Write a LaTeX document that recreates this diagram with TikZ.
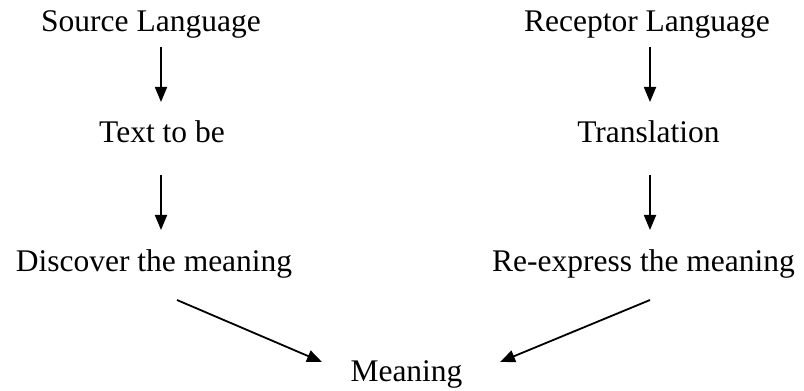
\documentclass[tikz,border=0pt]{standalone}
\usepackage{fontspec}
\setmainfont{Liberation Serif}
\usetikzlibrary{arrows.meta}
\begin{document}
\begin{tikzpicture}[x=1pt,y=1pt,
  lbl/.style={anchor=base,inner sep=0pt,font=\fontsize{31.5}{36}\selectfont},
  arr/.style={line width=1.8pt,-{Triangle[length=15pt,width=12pt]}}]
\useasboundingbox (0,0) rectangle (804,391);
\node[lbl] (src) at (151,359) {Source Language};
\node[lbl] (txt) at (162,248) {Text to be};
\node[lbl] (disc) at (154,119) {Discover the meaning};
\node[lbl] (rec) at (647,359) {Receptor Language};
\node[lbl] (tra) at (648.5,248) {Translation};
\node[lbl] (rexp) at (643.5,119) {Re-express the meaning};
\node[lbl] (mean) at (406.5,9) {Meaning};
\coordinate (a1s) at (161,344); \coordinate (a1e) at (161,289);
\coordinate (a2s) at (161,216); \coordinate (a2e) at (161,161);
\coordinate (b1s) at (650,344); \coordinate (b1e) at (650,289);
\coordinate (b2s) at (650,216); \coordinate (b2e) at (650,161);
\coordinate (d1s) at (177,91); \coordinate (d1e) at (322,29);
\coordinate (d2s) at (650,91); \coordinate (d2e) at (500,29);
\draw[arr] (a1s) -- (a1e);
\draw[arr] (a2s) -- (a2e);
\draw[arr] (b1s) -- (b1e);
\draw[arr] (b2s) -- (b2e);
\draw[arr] (d1s) -- (d1e);
\draw[arr] (d2s) -- (d2e);
\end{tikzpicture}
\end{document}
